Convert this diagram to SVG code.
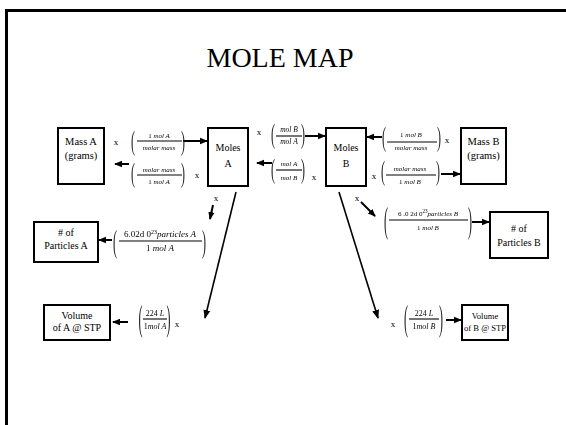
<svg xmlns="http://www.w3.org/2000/svg" width="566" height="425" viewBox="0 0 566 425">
<style>
text{font-family:"Liberation Serif","Times New Roman",serif;fill:#000}
.box{fill:#fff;stroke:#000;stroke-width:2}
.lbl{text-anchor:middle}
.fr{text-anchor:middle}
.it{font-style:italic}
.bar{stroke:#000;stroke-width:1.1}
.par{font-size:12px;font-weight:normal;fill:#222}
.x{font-size:9px;text-anchor:middle}
.arr{stroke:#000;stroke-width:2;fill:none;marker-end:url(#ah)}
.diag{stroke:#000;stroke-width:1.6;fill:none;marker-end:url(#ah2)}
</style>
<defs>
<marker id="ah" markerUnits="userSpaceOnUse" markerWidth="8" markerHeight="8" viewBox="0 0 8 8" refX="7" refY="4" orient="auto">
<path d="M0,0.8 L8,4 L0,7.2 Z" fill="#000"/>
</marker>
<marker id="ah2" markerUnits="userSpaceOnUse" markerWidth="9" markerHeight="9" viewBox="0 0 9 9" refX="8" refY="4.5" orient="auto">
<path d="M0,1 L9,4.5 L0,8 Z" fill="#000"/>
</marker>
</defs>
<rect width="566" height="425" fill="#fff"/>
<!-- slide frame -->
<path d="M6.5,425 V10.5 H566" stroke="#000" stroke-width="3" fill="none"/>
<text x="280" y="67" font-size="28" text-anchor="middle">MOLE MAP</text>

<g id="massA" font-size="10.5"><rect class="box" x="58" y="128" width="46" height="56"/><text class="lbl" x="81" y="145">Mass A</text><text class="lbl" x="81" y="159">(grams)</text></g>
<g id="molesA" font-size="10"><rect class="box" x="208" y="128" width="40" height="58"/><text class="lbl" x="228" y="151">Moles</text><text class="lbl" x="228" y="167">A</text></g>
<g id="molesB" font-size="10"><rect class="box" x="326" y="128" width="40" height="58"/><text class="lbl" x="346" y="151">Moles</text><text class="lbl" x="346" y="167">B</text></g>
<g id="massB" font-size="10.5"><rect class="box" x="461" y="128" width="45" height="56"/><text class="lbl" x="483.5" y="145">Mass B</text><text class="lbl" x="483.5" y="159">(grams)</text></g>
<g id="particlesA" font-size="10"><rect class="box" x="34" y="222" width="64" height="40"/><text class="lbl" x="66" y="236">#  of</text><text class="lbl" x="66" y="249">Particles A</text></g>
<g id="particlesB" font-size="10"><rect class="box" x="490" y="212" width="58" height="46"/><text class="lbl" x="519" y="232">#  of</text><text class="lbl" x="519" y="246">Particles  B</text></g>
<g id="volumeA" font-size="10"><rect class="box" x="44" y="305" width="66" height="35"/><text class="lbl" x="77" y="319">Volume</text><text class="lbl" x="77" y="331">of A @ STP</text></g>
<g id="volumeB" font-size="8.6"><rect class="box" x="462" y="305" width="46" height="35"/><text class="lbl" x="485" y="319">Volume</text><text class="lbl" x="485" y="331">of B @ STP</text></g>

<g id="connectors">
<line class="arr" x1="183" y1="141" x2="207" y2="141"/>
<line class="arr" x1="129" y1="164" x2="115" y2="164"/>
<line class="arr" x1="305" y1="136" x2="325" y2="136"/>
<line class="arr" x1="272" y1="163" x2="257" y2="163"/>
<line class="arr" x1="382" y1="137" x2="367" y2="137"/>
<line class="arr" x1="441" y1="174" x2="460" y2="174"/>
<line class="arr" x1="112" y1="240" x2="99" y2="240"/>
<line class="arr" x1="472" y1="222" x2="489" y2="222"/>
<line class="arr" x1="128" y1="322" x2="113" y2="322"/>
<line class="arr" x1="446" y1="320" x2="461" y2="320"/>
<line class="arr" x1="213" y1="205" x2="210" y2="219"/>
<line class="arr" x1="361" y1="202" x2="375" y2="216"/>
<line class="diag" x1="236" y1="192" x2="205" y2="318"/>
<line class="diag" x1="339" y1="192" x2="378" y2="318"/>
</g>

<g id="labels">
<text class="x" x="116" y="145">x</text>
<text class="x" x="197" y="178">x</text>
<text class="x" x="259" y="135">x</text>
<text class="x" x="314" y="180">x</text>
<text class="x" x="447" y="143">x</text>
<text class="x" x="374" y="179">x</text>
<text class="x" x="216" y="201">x</text>
<text class="x" x="357" y="201">x</text>
<text class="x" x="177" y="327">x</text>
<text class="x" x="393" y="327">x</text>
</g>

<!-- fractions -->
<g id="fractions" opacity="0.99">
<g id="f1" font-size="7">
<text class="par" transform="translate(131,149.5) scale(1,2.3)">(</text>
<text class="fr" x="159" y="138"><tspan>1 </tspan><tspan class="it">mol  A</tspan></text>
<line class="bar" x1="137" y1="141" x2="182" y2="141"/>
<text class="fr it" x="159" y="150">molar   mass</text>
<text class="par" transform="translate(181,149.5) scale(1,2.3)">)</text>
</g>
<g id="f2" font-size="7">
<text class="par" transform="translate(131,181.5) scale(1,2.3)">(</text>
<text class="fr it" x="159" y="172">molar  mass</text>
<line class="bar" x1="137" y1="175" x2="182" y2="175"/>
<text class="fr" x="159" y="184"><tspan>1 </tspan><tspan class="it">mol  A</tspan></text>
<text class="par" transform="translate(181,181.5) scale(1,2.3)">)</text>
</g>
<g id="f3" font-size="7.5">
<text class="par" transform="translate(271,142.5) scale(1,2.3)">(</text>
<text class="fr it" x="289" y="132">mol  B</text>
<line class="bar" x1="276" y1="136" x2="302" y2="136"/>
<text class="fr it" x="289" y="144">mol  A</text>
<text class="par" transform="translate(301,142.5) scale(1,2.3)">)</text>
</g>
<g id="f4" font-size="7">
<text class="par" transform="translate(271,178) scale(1,2.3)">(</text>
<text class="fr it" x="289" y="166">mol  A</text>
<line class="bar" x1="276" y1="170" x2="302" y2="170"/>
<text class="fr it" x="289" y="180">mol   B</text>
<text class="par" transform="translate(301,178) scale(1,2.3)">)</text>
</g>
<g id="f5" font-size="7">
<text class="par" transform="translate(382,146) scale(1,2.3)">(</text>
<text class="fr" x="411" y="137"><tspan>1 </tspan><tspan class="it">mol  B</tspan></text>
<line class="bar" x1="387" y1="142" x2="437" y2="142"/>
<text class="fr it" x="411" y="150">molar   mass</text>
<text class="par" transform="translate(437,146) scale(1,2.3)">)</text>
</g>
<g id="f6" font-size="7">
<text class="par" transform="translate(381,180) scale(1,2.3)">(</text>
<text class="fr it" x="410" y="171">molar  mass</text>
<line class="bar" x1="386" y1="175" x2="436" y2="175"/>
<text class="fr" x="410" y="184"><tspan>1 </tspan><tspan class="it">mol  B</tspan></text>
<text class="par" transform="translate(436,180) scale(1,2.3)">)</text>
</g>
<g id="f7" font-size="9">
<text class="par" transform="translate(113,252) scale(1,2.7)">(</text>
<text class="fr" x="160" y="237"><tspan>6.02d 0</tspan><tspan font-size="6" dy="-3.5">23</tspan><tspan class="it" dy="3.5">particles  A</tspan></text>
<line class="bar" x1="119" y1="241" x2="202" y2="241"/>
<text class="fr" x="160" y="251"><tspan>1 </tspan><tspan class="it">mol  A</tspan></text>
<text class="par" transform="translate(202,252) scale(1,2.7)">)</text>
</g>
<g id="f8" font-size="7">
<text class="par" transform="translate(384,232) scale(1,2.9)">(</text>
<text class="fr" x="428" y="216"><tspan>6 .0 2d 0</tspan><tspan font-size="5.2" dy="-3">23</tspan><tspan class="it" dy="3">particles   B</tspan></text>
<line class="bar" x1="389" y1="220" x2="468" y2="220"/>
<text class="fr" x="428" y="230"><tspan>1 </tspan><tspan class="it">mol   B</tspan></text>
<text class="par" transform="translate(468,232) scale(1,2.9)">)</text>
</g>
<g id="f9" font-size="8">
<text class="par" transform="translate(138.5,330) scale(1,2.9)">(</text>
<text class="fr" x="155" y="316"><tspan>224 </tspan><tspan class="it">L</tspan></text>
<line class="bar" x1="143" y1="319" x2="167" y2="319"/>
<text class="fr" x="155" y="329"><tspan>1</tspan><tspan class="it">mol A</tspan></text>
<text class="par" transform="translate(166.5,330) scale(1,2.9)">)</text>
</g>
<g id="f10" font-size="8">
<text class="par" transform="translate(404,330) scale(1,2.9)">(</text>
<text class="fr" x="424" y="316"><tspan>224 </tspan><tspan class="it">L</tspan></text>
<line class="bar" x1="409" y1="319" x2="439" y2="319"/>
<text class="fr" x="424" y="329"><tspan>1</tspan><tspan class="it">mol B</tspan></text>
<text class="par" transform="translate(439,330) scale(1,2.9)">)</text>
</g>
</g>
</svg>
